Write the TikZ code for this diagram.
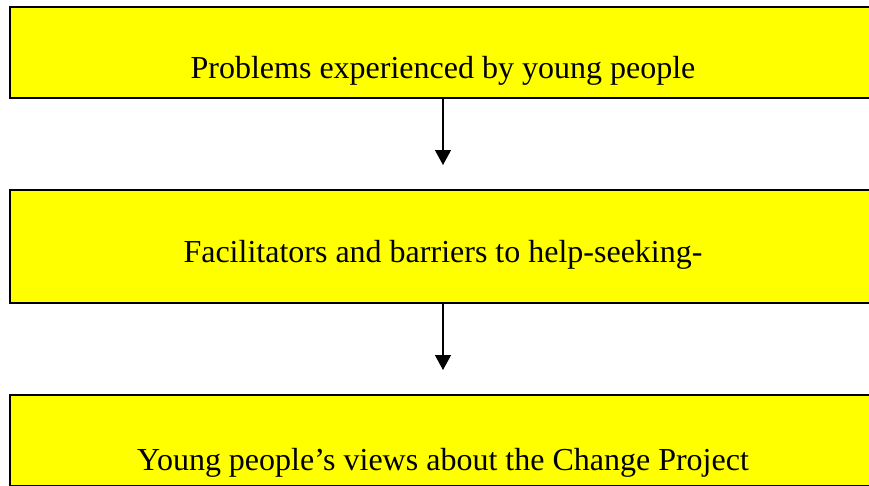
\documentclass[tikz,border=0pt]{standalone}
\usepackage{fontspec}
\setmainfont{Liberation Serif}
\usetikzlibrary{arrows.meta}
\definecolor{boxyellow}{HTML}{FFFF00}

\begin{document}
\begin{tikzpicture}[x=1pt,y=-1pt,
                    every node/.style={font=\fontsize{32}{38}\selectfont},
                    stagebox/.style={draw=black,fill=boxyellow,line width=2pt,inner sep=0pt,
                                     minimum width=866pt,anchor=base},
                    flowarrow/.style={line width=1.3pt,-{Triangle[width=16pt,length=15pt]},shorten >=24pt}]
\useasboundingbox (0,0) rectangle (869,485);
\clip (0,0) rectangle (869,485);
\node[stagebox,text height=71pt,text depth=20pt] (problems) at (443,78) {Problems experienced by young people};
\node[stagebox,text height=72pt,text depth=41pt] (barriers) at (443,262) {Facilitators and barriers to help-seeking-};
\node[stagebox,text height=75pt,text depth=16pt] (views) at (443,470) {Young people’s views about the Change Project};
\draw[flowarrow] (problems.south) -- (barriers.north);
\draw[flowarrow] (barriers.south) -- (views.north);
\end{tikzpicture}
\end{document}
